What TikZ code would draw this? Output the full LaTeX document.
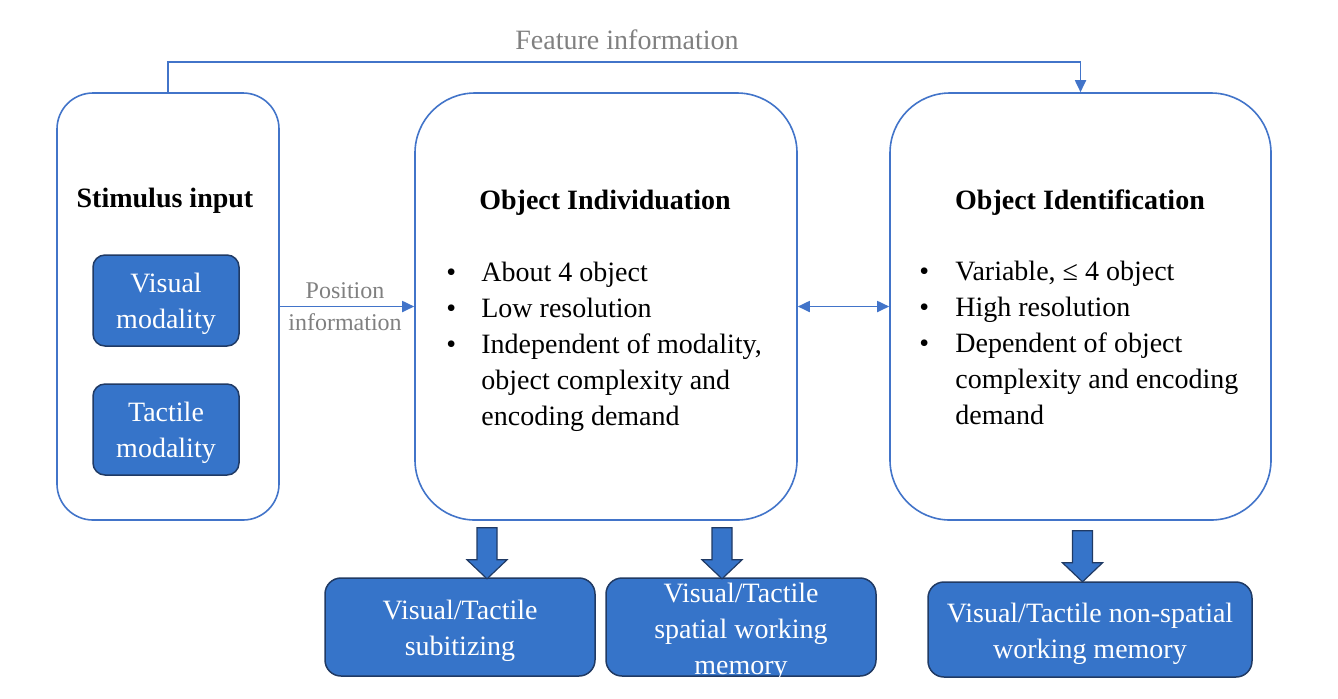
\documentclass[tikz,border=0pt]{standalone}
\usepackage{fontspec}
\setmainfont{Liberation Serif}
\usetikzlibrary{arrows.meta,calc}
\definecolor{lineblue}{HTML}{4274C9}
\definecolor{fillblue}{HTML}{3674C9}
\definecolor{darkedge}{HTML}{203A64}
\definecolor{labelgray}{HTML}{808080}
\tikzset{
  bigbox/.style={draw=lineblue, line width=0.8pt, fill=white, inner sep=0pt},
  bluebox/.style={draw=darkedge, line width=0.75pt, fill=fillblue, inner sep=0pt},
  bluetext/.style={text=white, align=center, inner sep=0pt, font=\fontsize{14}{18}\selectfont},
  titletext/.style={font=\bfseries\fontsize{14}{18}\selectfont, inner sep=0pt, anchor=base},
  listtext/.style={font=\fontsize{14}{18}\selectfont, inner sep=0pt, anchor=base west},
  conn/.style={draw=lineblue, line width=0.9pt, -{Triangle[length=6pt,width=5.5pt]}},
  dconn/.style={draw=lineblue, line width=0.9pt, {Triangle[length=6pt,width=5.5pt]}-{Triangle[length=6pt,width=5.5pt]}},
  graylabel/.style={text=labelgray, inner sep=0pt},
  blockarrow/.pic={\draw[draw=darkedge, line width=0.6pt, fill=fillblue]
     (-10,0) -- (10,0) -- (10,32) -- (20,32) -- (0,51) -- (-20,32) -- (-10,32) -- cycle;}
}
\begin{document}
\begin{tikzpicture}[x=0.5pt,y=-0.5pt]
\useasboundingbox (0,0) rectangle (1338,698);
% main boxes
\node[bigbox, rounded corners=18pt, minimum width=111pt, minimum height=213.5pt] (stim) at (168,306.5) {};
\node[bigbox, rounded corners=30pt, minimum width=191pt, minimum height=213.5pt] (oi) at (606,306.5) {};
\node[bigbox, rounded corners=30pt, minimum width=190.5pt, minimum height=213.5pt] (oid) at (1080.5,306.5) {};
% stimulus content
\node[titletext] (stimtitle) at (165,207) {Stimulus input};
\node[bluebox, rounded corners=6pt, minimum width=73pt, minimum height=45.5pt] (vis) at (166,300.5) {};
\node[bluetext] (vistext) at ($(vis)+(0,3)$) {Visual\\modality};
\node[bluebox, rounded corners=6pt, minimum width=73pt, minimum height=45.5pt] (tac) at (166,429.5) {};
\node[bluetext] (tactext) at ($(tac)+(0,3)$) {Tactile\\modality};
% object individuation content
\node[titletext] (oititle) at (605,209) {Object Individuation};
\node[listtext] (oilist) at (446,281) {\begin{tabular}[t]{@{}p{17.5pt}@{}l@{}}
\textbullet & About 4 object\\
\textbullet & Low resolution\\
\textbullet & Independent of modality,\\
 & object complexity and\\
 & encoding demand
\end{tabular}};
% object identification content
\node[titletext] (oidtitle) at (1080,209) {Object Identification};
\node[listtext] (oidlist) at (919,280) {\begin{tabular}[t]{@{}p{18pt}@{}l@{}}
\textbullet & Variable, ≤ 4 object\\
\textbullet & High resolution\\
\textbullet & Dependent of object\\
 & complexity and encoding\\
 & demand
\end{tabular}};
% bottom boxes
\node[bluebox, rounded corners=8pt, minimum width=135pt, minimum height=49pt] (sub) at (460,627) {};
\node[bluetext] (subtext) at ($(sub)+(0,4)$) {Visual/Tactile\\subitizing};
\node[bluebox, rounded corners=8pt, minimum width=135pt, minimum height=49pt] (swm) at (741,627) {};
\node[bluetext] (swmtext) at ($(swm)+(0,5)$) {Visual/Tactile\\spatial working\\memory};
\node[bluebox, rounded corners=8pt, minimum width=162pt, minimum height=47.5pt] (nswm) at (1090,629.5) {};
\node[bluetext] (nswmtext) at ($(nswm)+(0,4)$) {Visual/Tactile non-spatial\\working memory};
% connectors
\draw[conn] (stim.north) -- ++(0,-30) coordinate (fcorner) -| (oid.north);
\node[graylabel, font=\fontsize{14}{18}\selectfont] (featlabel) at (627,40) {Feature information};
\draw[conn] (stim.east) -- (oi.west);
\node[graylabel, font=\fontsize{12}{16}\selectfont, align=center] (poslabel) at (345,307) {Position\\information};
\draw[dconn] (oi.east) -- (oid.west);
% block arrows
\pic at ($(oi.south)+(-119,7)$) {blockarrow};
\pic at ($(oi.south)+(116,7)$) {blockarrow};
\pic at ($(oid.south)+(2,10)$) {blockarrow};
\end{tikzpicture}
\end{document}
